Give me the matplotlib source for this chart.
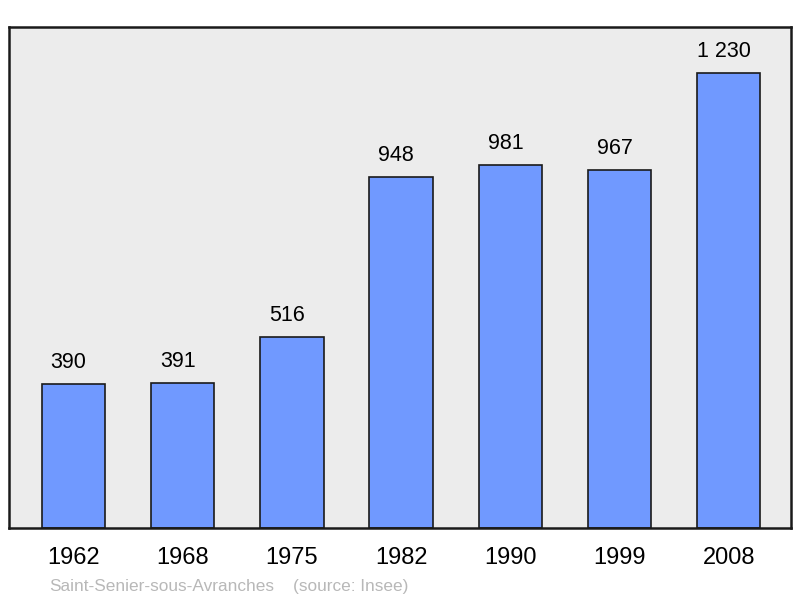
import matplotlib.pyplot as plt

years = ['1962', '1968', '1975', '1982', '1990', '1999', '2008']
population = [390, 391, 516, 948, 981, 967, 1230]
labels = ['390', '391', '516', '948', '981', '967', '1 230']

plt.rcParams['font.family'] = ['Liberation Sans', 'DejaVu Sans']

fig = plt.figure(figsize=(8, 5.98), dpi=100)
ax = fig.add_axes([0.01125, 0.117, 0.9775, 0.838])
ax.set_facecolor('#ececec')

x = range(len(years))
ax.bar(x, population, width=0.58, color='#7099ff', edgecolor='#1a1a1a', linewidth=1.2, zorder=2)
for i, v in enumerate(population):
    ax.text(i - 0.045, v + 30, labels[i], ha='center', va='bottom', fontsize=15.5)

ax.set_xlim(-0.59, 6.57)
ax.set_ylim(0, 1354)
ax.set_xticks(list(x))
ax.set_xticklabels(years, fontsize=17)
ax.tick_params(axis='x', length=0, pad=14)
ax.set_yticks([])
for s in ax.spines.values():
    s.set_linewidth(1.8)
    s.set_color('#1a1a1a')

fig.text(0.061, 0.012, 'Saint-Senier-sous-Avranches', color='#b8b8b8', fontsize=12.4)
fig.text(0.366, 0.012, '(source: Insee)', color='#b8b8b8', fontsize=12.4)

fig.savefig('out.png', dpi=100)
